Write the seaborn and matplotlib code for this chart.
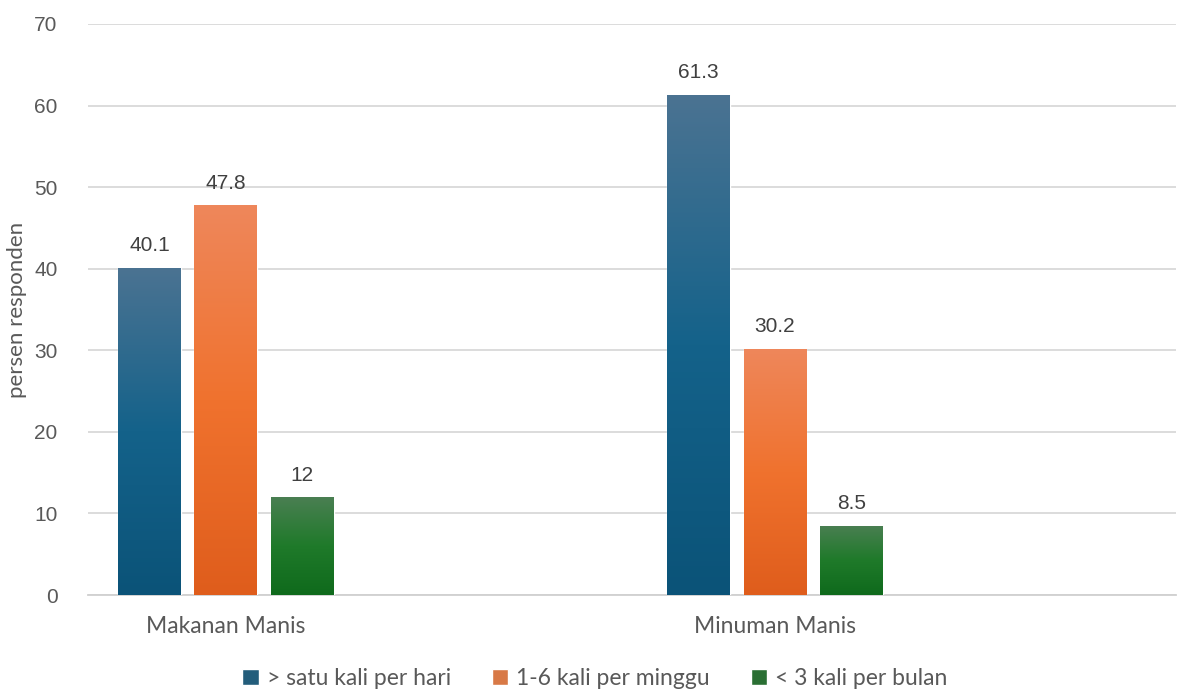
import numpy as np
import pandas as pd
import matplotlib
matplotlib.use("Agg")
import matplotlib.pyplot as plt
import seaborn as sns
from matplotlib.colors import LinearSegmentedColormap

# data
kategori = ["Makanan Manis", "Minuman Manis"]
frekuensi = ["> satu kali per hari", "1-6 kali per minggu", "< 3 kali per bulan"]
nilai_makanan = [40.1, 47.8, 12]
nilai_minuman = [61.3, 30.2, 8.5]

# warna (atas, tengah, bawah) untuk gradasi
warna_atas = ["#4b7392", "#ee875b", "#4a7f52"]
warna_tengah = ["#14628a", "#f0722e", "#1f7a2a"]
warna_bawah = ["#0b5378", "#df5d1c", "#0f6a1c"]

df = pd.DataFrame({
    "kategori": kategori * 3,
    "frekuensi": [f for f in frekuensi for _ in kategori],
    "nilai": [v for pair in zip(nilai_makanan, nilai_minuman) for v in pair],
})

sns.set_style("white")
plt.rcParams["font.family"] = ["Liberation Sans", "DejaVu Sans"]

fig = plt.figure(figsize=(11.78, 6.89), dpi=100)
ax = fig.add_axes([0.0747, 0.1364, 0.924, 0.8288])

sns.barplot(data=df, x="kategori", y="nilai", hue="frekuensi",
            order=kategori, hue_order=frekuensi, palette=warna_tengah,
            width=0.417, gap=0.176, ax=ax, legend=True, zorder=3)

ax.set_ylim(0, 70)
ax.set_yticks(range(0, 71, 10))
ax.yaxis.grid(True, color="#d9d9d9", lw=1.3, zorder=0)
ax.set_axisbelow(True)
for s in ["top", "right", "left"]:
    ax.spines[s].set_visible(False)
ax.spines["bottom"].set_color("#d0d0d0")
ax.spines["bottom"].set_linewidth(1.3)
ax.tick_params(axis="both", length=0, colors="#595959", labelsize=15)
ax.tick_params(axis="y", pad=22)
ax.tick_params(axis="x", pad=15)
for t in ax.get_xticklabels():
    t.set_fontfamily(["Lato", "DejaVu Sans"])
    t.set_fontsize(16.5)
ax.set_xlabel("")
ax.set_ylabel("persen responden", color="#595959", fontsize=16,
              fontfamily=["Lato", "DejaVu Sans"], labelpad=5)

# gradasi di tiap batang
for i, cont in enumerate(ax.containers):
    cmap = LinearSegmentedColormap.from_list(
        "g%d" % i, [(0, warna_bawah[i]), (0.5, warna_tengah[i]), (1, warna_atas[i])])
    grad = np.linspace(0, 1, 256).reshape(-1, 1)
    for bar in cont:
        x0, y0 = bar.get_x(), bar.get_y()
        w, h = bar.get_width(), bar.get_height()
        im = ax.imshow(grad, cmap=cmap, origin="lower", aspect="auto",
                       extent=[x0, x0 + w, y0, y0 + h], zorder=4)
        im.set_clip_path(bar)
    ax.bar_label(cont, labels=[("%g" % b.get_height()) for b in cont],
                 padding=9, fontsize=15, color="#404040")

ax.set_xlim(-0.251, 1.731)
ax.set_ylim(0, 70)

# legenda di bawah
handles, labels = ax.get_legend_handles_labels()
ax.get_legend().remove()
leg = fig.legend(handles, labels, loc="lower center", bbox_to_anchor=(0.505, -0.03),
                 ncol=3, frameon=False, handlelength=0.7,
                 handleheight=0.7, handletextpad=0.35, columnspacing=1.8,
                 prop={"family": ["Lato", "DejaVu Sans"], "size": 16.5})
for t in leg.get_texts():
    t.set_color("#595959")

fig.savefig("out.png", dpi=100)
